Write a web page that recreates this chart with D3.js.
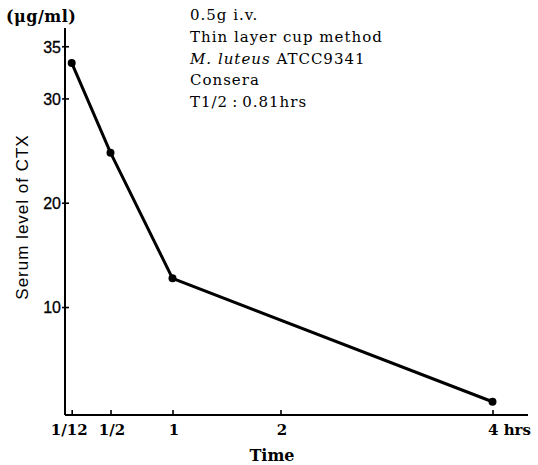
<!DOCTYPE html>
<html>
<head>
<meta charset="utf-8">
<script src="https://cdn.jsdelivr.net/npm/d3@7"></script>
<style>
  html, body { margin: 0; padding: 0; background: #fff; }
  svg { display: block; }
  .serif { font-family: "DejaVu Serif", "Liberation Serif", serif; }
  .sans { font-family: "Liberation Sans", Arial, sans-serif; }
</style>
</head>
<body>
<svg id="chart" width="538" height="465"></svg>
<script>
// ---- data ----
const times = [1/12, 1/2, 1, 4];            // hours
const serumLevels = [33.4, 24.8, 12.75, 0.92]; // µg/ml
const xTickValues = [1/12, 1/2, 1, 2, 4];
const xTickLabels = ["1/12", "1/2", "1", "2", "4 hrs"];
const yTickValues = [10, 20, 30, 35];
const notes = ["0.5g i.v.", "Thin layer cup method", "M. luteus ATCC9341", "Consera", "T1/2\u2009:\u20090.81hrs"];

const svg = d3.select("#chart");
svg.append("rect").attr("width", 538).attr("height", 465).attr("fill", "#fff");

// x: the original axis is hand-drawn, tick spacing is not strictly linear
const x = d3.scaleLinear()
  .domain([0, 1/12, 1/2, 1, 2, 4, 4.33])
  .range([65, 71.7, 110.5, 172.5, 280.5, 492.5, 528]);
const y = d3.scaleLinear().domain([-0.35, 36.75]).range([415, 28]);

// y axis
const yAxis = d3.axisLeft(y).tickValues(yTickValues).tickSize(0).tickPadding(0);
const gy = svg.append("g").attr("transform", `translate(${x(0)},0)`).call(yAxis);
gy.select(".domain").remove();
gy.selectAll(".tick text").remove();
gy.append("line").attr("x1", 0).attr("x2", 0).attr("y1", y(-0.35)).attr("y2", y(36.75))
  .attr("stroke", "#000").attr("stroke-width", 2);
gy.selectAll(".tick").append("line").attr("x1", -3).attr("x2", 4)
  .attr("stroke", "#000").attr("stroke-width", 1.6);
gy.selectAll(".tick").append("text")
  .attr("class", "sans")
  .attr("x", -4).attr("dy", "0.36em")
  .attr("text-anchor", "end")
  .attr("font-size", 16)
  .attr("fill", "#000")
  .attr("stroke", "#000").attr("stroke-width", 0.3)
  .text(d => d);

// x axis
const xAxis = d3.axisBottom(x).tickValues(xTickValues).tickSize(0);
const gx = svg.append("g").attr("transform", `translate(0,${y(-0.35)})`).call(xAxis);
gx.select(".domain").remove();
gx.selectAll(".tick text").remove();
gx.append("line").attr("x1", x(0)).attr("x2", x(4.33)).attr("y1", 0).attr("y2", 0)
  .attr("stroke", "#000").attr("stroke-width", 2);
gx.selectAll(".tick").append("line").attr("y1", 1).attr("y2", -5)
  .attr("stroke", "#000").attr("stroke-width", 1.6);
gx.selectAll(".tick").append("text")
  .attr("class", "serif")
  .attr("y", 20)
  .attr("x", (d, i) => i === xTickValues.length - 1 ? -5 : (i === 0 ? -3 : 1))
  .attr("text-anchor", (d, i) => i === xTickValues.length - 1 ? "start" : "middle")
  .attr("font-size", 15)
  .attr("font-weight", "bold")
  .attr("fill", "#000")
  .text((d, i) => xTickLabels[i]);

// axis titles
svg.append("text").attr("class", "serif")
  .attr("x", 272).attr("y", 461)
  .attr("text-anchor", "middle").attr("font-size", 16).attr("font-weight", "bold")
  .text("Time");

svg.append("text").attr("class", "sans")
  .attr("transform", "translate(28,217) rotate(-90)")
  .attr("text-anchor", "middle").attr("font-size", 17)
  .attr("letter-spacing", 1)
  .text("Serum level of CTX");

svg.append("text").attr("class", "serif")
  .attr("x", 6).attr("y", 22)
  .attr("font-size", 16).attr("font-weight", "bold")
  .attr("letter-spacing", 0.5)
  .text("(\u03bcg/ml)");

// line + points
const pts = times.map((t, i) => [t, serumLevels[i]]);
svg.append("path").datum(pts)
  .attr("d", d3.line().x(d => x(d[0])).y(d => y(d[1])))
  .attr("fill", "none").attr("stroke", "#000").attr("stroke-width", 3)
  .attr("stroke-linejoin", "round");
svg.selectAll("circle.pt").data(pts).enter().append("circle")
  .attr("class", "pt")
  .attr("cx", d => x(d[0])).attr("cy", d => y(d[1])).attr("r", 4).attr("fill", "#000");

// notes
const notesG = svg.append("g").attr("class", "serif").attr("font-size", 15);
notes.forEach((n, i) => {
  const t = notesG.append("text").attr("x", 190).attr("y", 20 + i * 21.8).attr("letter-spacing", 1);
  if (i === 2) {
    t.append("tspan").attr("font-style", "italic").text("M. luteus");
    t.append("tspan").text(" ATCC9341");
  } else {
    t.text(n);
  }
});
</script>
</body>
</html>
